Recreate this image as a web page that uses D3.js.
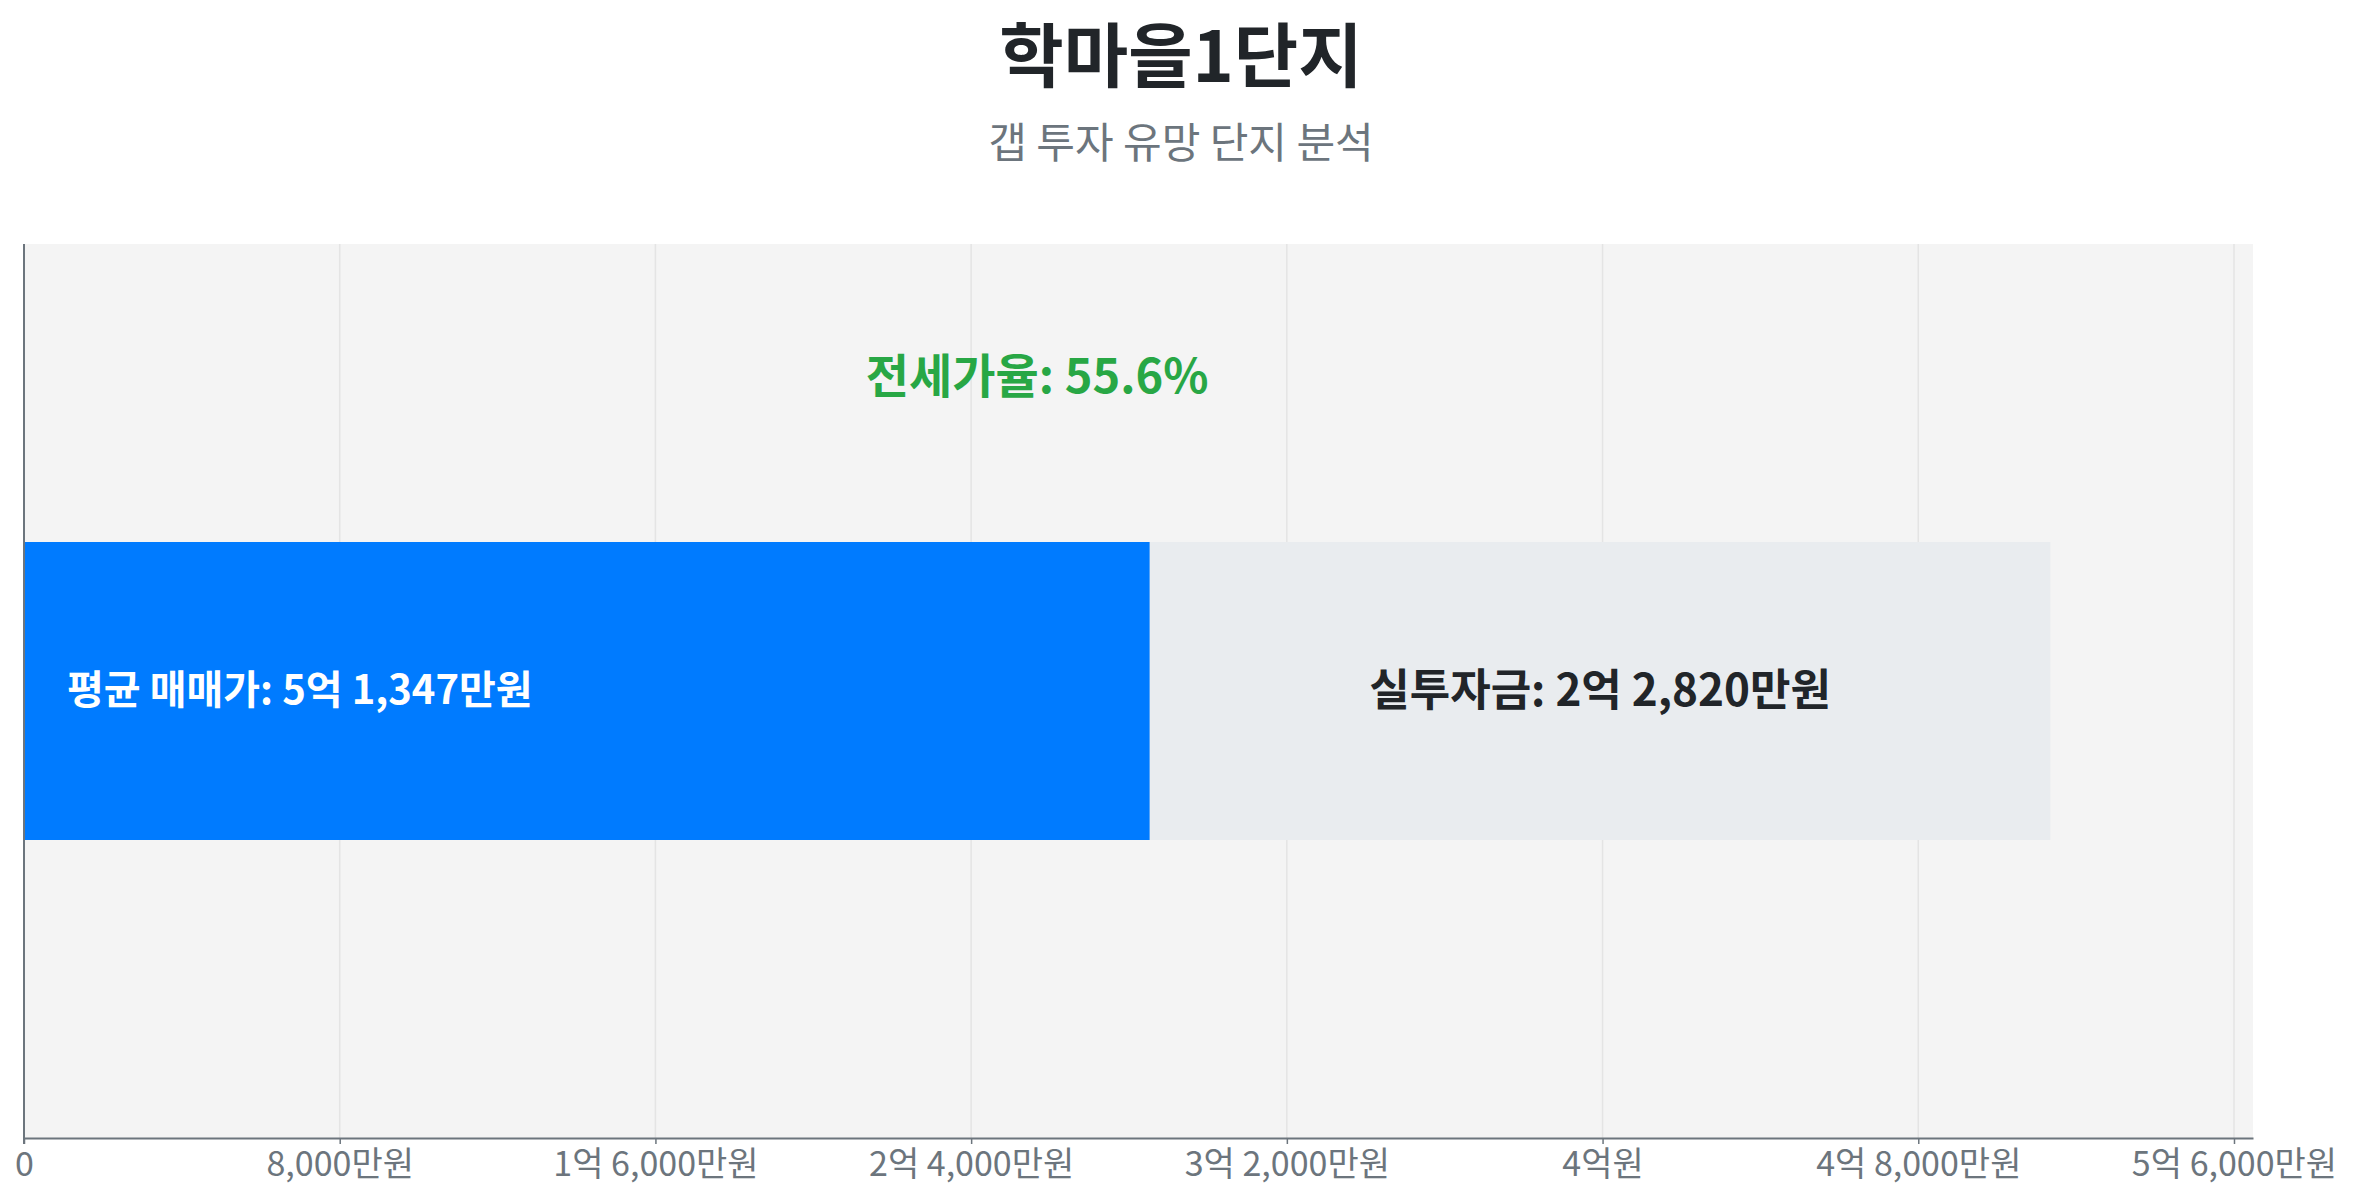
<!DOCTYPE html>
<html>
<head>
<meta charset="utf-8">
<script src="https://cdn.jsdelivr.net/npm/d3@7"></script>
<style>
  body { margin: 0; background: #fff; }
  text { font-family: "Noto Sans CJK KR", "Noto Sans", sans-serif; }
</style>
</head>
<body>
<div id="chart"></div>
<script>
// 데이터 (단위: 만원)
var title = "학마을1단지";
var subtitle = "갭 투자 유망 단지 분석";
var categories = ["학마을1단지"];
var salePrice = [51347];      // 평균 매매가
var jeonsePrice = [28527];    // 전세가
var gapAmount = [22820];      // 실투자금
var jeonseRatio = [55.6];     // 전세가율 (%)
var tickValues = [0, 8000, 16000, 24000, 32000, 40000, 48000, 56000];

var W = 2354, H = 1200;
var margin = {top: 244, right: 101, bottom: 62, left: 24},
    width = W - margin.left - margin.right,
    height = H - margin.top - margin.bottom;

function won(v) {
  if (v === 0) return "0";
  var eok = Math.floor(v / 10000), man = Math.round(v % 10000);
  if (eok === 0) return d3.format(",")(man) + "만원";
  if (man === 0) return eok + "억원";
  return eok + "억 " + d3.format(",")(man) + "만원";
}

var svg = d3.select("#chart").append("svg")
    .attr("width", W)
    .attr("height", H);

svg.append("text")
    .attr("x", W / 2 + 4).attr("y", 51)
    .attr("text-anchor", "middle").attr("dominant-baseline", "central")
    .style("font-size", "70px").style("font-weight", "bold")
    .style("fill", "#212529")
    .text(title);

svg.append("text")
    .attr("x", W / 2 + 4).attr("y", 139)
    .attr("text-anchor", "middle").attr("dominant-baseline", "central")
    .style("font-size", "42px")
    .style("fill", "#6c757d")
    .text(subtitle);

var g = svg.append("g")
    .attr("transform", "translate(" + margin.left + "," + margin.top + ")");

var x = d3.scaleLinear()
    .domain([0, d3.max(salePrice) * 1.1])
    .range([0, width]);

var y = d3.scaleBand()
    .domain(categories)
    .range([0, height])
    .padding(0.5);

// plot background
g.append("rect")
    .attr("width", width).attr("height", height)
    .style("fill", "#f4f4f4");

// grid
g.append("g")
  .selectAll("line")
  .data(tickValues.slice(1))
  .enter().append("line")
    .attr("x1", function(d) { return x(d); })
    .attr("x2", function(d) { return x(d); })
    .attr("y1", 0).attr("y2", height)
    .style("stroke", "#e4e4e4").style("stroke-width", 1.5);

// stacked bar: 전세가 + 실투자금
g.selectAll(".jeonse")
  .data(categories)
  .enter().append("rect")
    .attr("x", x(0))
    .attr("y", function(d) { return y(d); })
    .attr("width", function(d, i) { return x(jeonsePrice[i]) - x(0); })
    .attr("height", y.bandwidth())
    .style("fill", "#007bff");

g.selectAll(".gap")
  .data(categories)
  .enter().append("rect")
    .attr("x", function(d, i) { return x(jeonsePrice[i]); })
    .attr("y", function(d) { return y(d); })
    .attr("width", function(d, i) { return x(jeonsePrice[i] + gapAmount[i]) - x(jeonsePrice[i]); })
    .attr("height", y.bandwidth())
    .style("fill", "#e9ecef");

// labels
g.selectAll(".lbl-sale")
  .data(categories)
  .enter().append("text")
    .attr("x", x(0) + 43)
    .attr("y", function(d) { return y(d) + y.bandwidth() / 2 - 4; })
    .attr("dominant-baseline", "central")
    .style("font-size", "40px").style("font-weight", "bold")
    .style("fill", "#fff")
    .text(function(d, i) { return "평균 매매가: " + won(salePrice[i]); });

g.selectAll(".lbl-gap")
  .data(categories)
  .enter().append("text")
    .attr("x", function(d, i) { return (x(jeonsePrice[i]) + x(jeonsePrice[i] + gapAmount[i])) / 2; })
    .attr("y", function(d) { return y(d) + y.bandwidth() / 2 - 4; })
    .attr("text-anchor", "middle").attr("dominant-baseline", "central")
    .style("font-size", "44px").style("font-weight", "bold")
    .style("fill", "#212529")
    .text(function(d, i) { return "실투자금: " + won(gapAmount[i]); });

g.selectAll(".lbl-ratio")
  .data(categories)
  .enter().append("text")
    .attr("x", function(d, i) { return (x(0) + x(salePrice[i])) / 2; })
    .attr("y", function(d) { return y(d) - 170; })
    .attr("text-anchor", "middle").attr("dominant-baseline", "central")
    .style("font-size", "47px").style("font-weight", "bold")
    .style("fill", "#28a745")
    .text(function(d, i) { return "전세가율: " + jeonseRatio[i] + "%"; });

// x axis
var xAxis = g.append("g")
    .attr("transform", "translate(0," + height + ")")
    .call(d3.axisBottom(x).tickValues(tickValues).tickFormat(won).tickSize(6).tickSizeOuter(0).tickPadding(8));
xAxis.select(".domain").style("stroke", "#6c757d").style("stroke-width", 2);
xAxis.selectAll(".tick line").style("stroke", "#6c757d").style("stroke-width", 1.5);
xAxis.selectAll(".tick text")
    .style("font-size", "34px").style("fill", "#6c757d")
    .style("font-family", "'Noto Sans CJK KR', sans-serif");

// left axis line
g.append("line")
    .attr("x1", 0).attr("x2", 0).attr("y1", 0).attr("y2", height + 6)
    .style("stroke", "#6c757d").style("stroke-width", 2);
</script>
</body>
</html>
